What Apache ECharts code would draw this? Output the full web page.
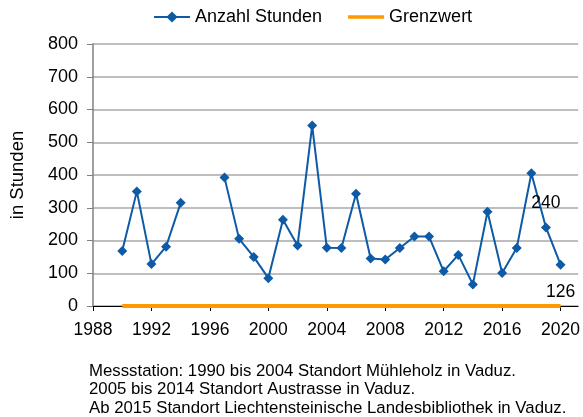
<!DOCTYPE html>
<html>
<head>
<meta charset="utf-8">
<script src="https://cdn.jsdelivr.net/npm/echarts@6/dist/echarts.min.js"></script>
<style>
html, body { margin: 0; padding: 0; background: #fff; }
#chart { width: 583px; height: 417px; }
</style>
</head>
<body>
<div id="chart"></div>
<script>
// Daten
var years = [1990, 1991, 1992, 1993, 1994, 1995, 1996, 1997, 1998, 1999, 2000, 2001, 2002, 2003, 2004,
             2005, 2006, 2007, 2008, 2009, 2010, 2011, 2012, 2013, 2014, 2015, 2016, 2017, 2018, 2019, 2020];
var stunden = [168, 350, 128, 181, 315, null, null, 392, 205, 150, 85, 263, 185, 551, 178,
               177, 343, 145, 142, 177, 212, 212, 106, 156, 66, 288, 101, 177, 405, 240, 126];
var grenzwert = [0, 0];
var grenzJahre = [1990, 2020];
var labelJahre = [2019, 2020];
var xTicks = [1988, 1992, 1996, 2000, 2004, 2008, 2012, 2016, 2020];
var fussnote = [
    'Messstation: 1990 bis 2004 Standort Mühleholz in Vaduz.',
    '2005 bis 2014 Standort Austrasse in Vaduz.',
    'Ab 2015 Standort Liechtensteinische Landesbibliothek in Vaduz.'
];

var font = 'Liberation Sans, Arial, sans-serif';

var stundenData = years.map(function (y, i) {
    var v = stunden[i];
    if (v === null) return [y, '-'];
    var item = { value: [y, v] };
    if (labelJahre.indexOf(y) >= 0) {
        item.label = {
            show: true,
            position: y === 2020 ? 'bottom' : 'top',
            distance: y === 2020 ? 13 : 10,
            color: '#000',
            fontSize: 17.5,
            fontFamily: font
        };
    }
    return item;
});

var myChart = echarts.init(document.getElementById('chart'));

var option = {
    backgroundColor: '#fff',
    animation: false,
    title: {
        text: fussnote.join('\n'),
        left: 89,
        top: 362,
        padding: 0,
        textStyle: {
            color: '#000',
            fontSize: 16.8,
            fontWeight: 'normal',
            fontFamily: font,
            lineHeight: 18.5
        }
    },
    legend: {
        top: 8,
        left: 153,
        padding: 0,
        itemWidth: 36,
        itemHeight: 14,
        itemGap: 26,
        textStyle: { color: '#000', fontSize: 18, fontFamily: font },
        data: [
            { name: 'Anzahl Stunden' },
            { name: 'Grenzwert', icon: 'path://M0,0H36V3.5H0Z' }
        ]
    },
    grid: {
        left: 92,
        right: 3,
        top: 44,
        bottom: 111,
        containLabel: false
    },
    xAxis: {
        type: 'value',
        min: 1988,
        max: 2021.2,
        axisLine: { lineStyle: { color: '#000', width: 1 } },
        axisTick: { show: true, length: 5, inside: false, customValues: xTicks, lineStyle: { color: '#000' } },
        axisLabel: {
            color: '#000',
            fontSize: 17.5,
            fontFamily: font,
            margin: 15,
            customValues: xTicks,
            formatter: function (v) { return String(v); }
        },
        splitLine: { show: false }
    },
    yAxis: {
        type: 'value',
        min: 0,
        max: 800,
        interval: 100,
        name: 'in Stunden',
        nameLocation: 'middle',
        nameGap: 66,
        nameRotate: 90,
        nameTextStyle: { color: '#000', fontSize: 18.5, fontFamily: font },
        axisLine: { show: true, lineStyle: { color: '#808080', width: 1.5 } },
        axisTick: { show: true, length: 6, lineStyle: { color: '#808080' } },
        axisLabel: { color: '#000', fontSize: 18, fontFamily: font, margin: 15 },
        splitLine: { show: true, lineStyle: { color: '#a8a8a8', width: 1.5 } }
    },
    series: [
        {
            name: 'Anzahl Stunden',
            type: 'line',
            data: stundenData,
            connectNulls: false,
            symbol: 'diamond',
            symbolSize: 10,
            itemStyle: { color: '#0d5aa7' },
            lineStyle: { color: '#0d5aa7', width: 2 },
            z: 3
        },
        {
            name: 'Grenzwert',
            type: 'line',
            data: grenzJahre.map(function (y, i) { return [y, grenzwert[i]]; }),
            symbol: 'none',
            itemStyle: { color: '#ff9900' },
            lineStyle: { color: '#ff9900', width: 4 },
            z: 4
        }
    ]
};

myChart.setOption(option);
</script>
</body>
</html>
